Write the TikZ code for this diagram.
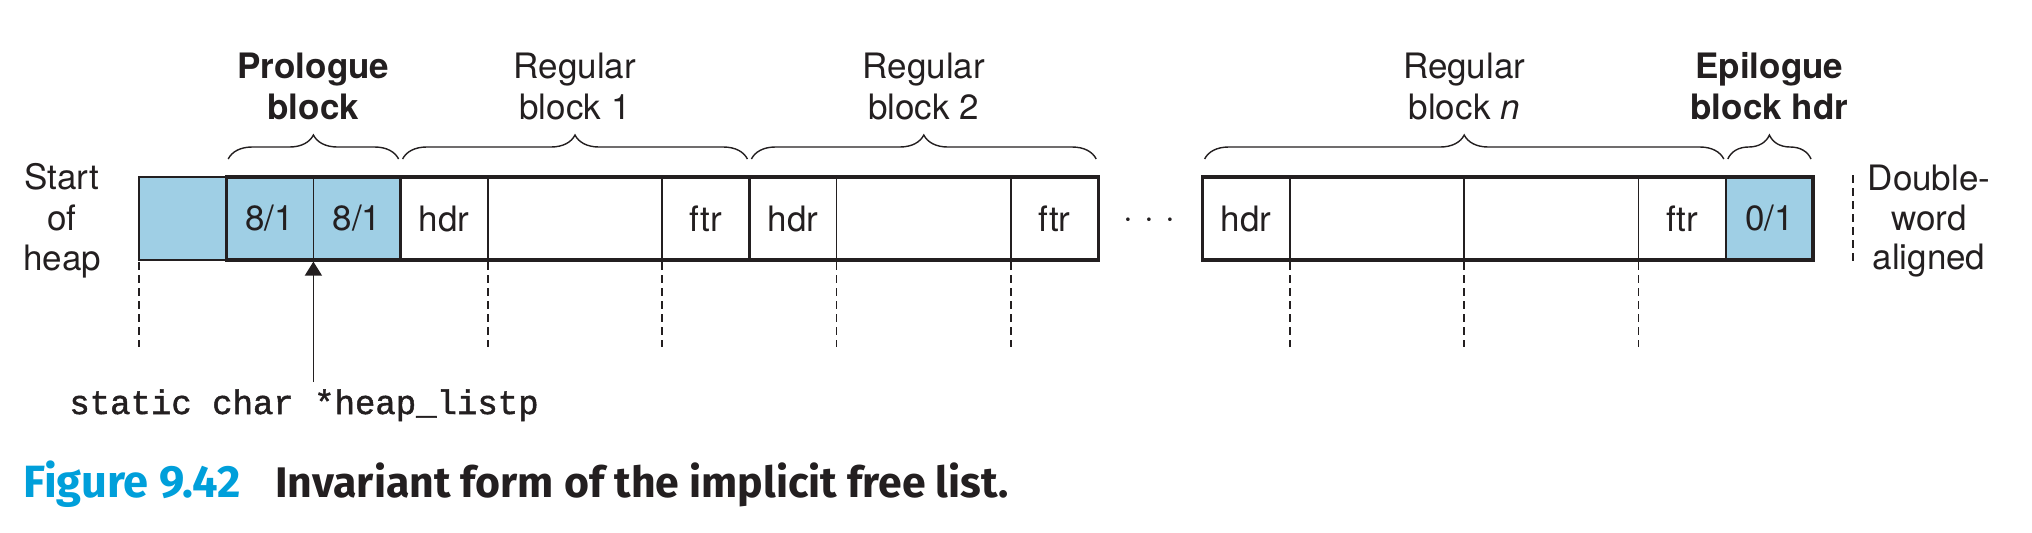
\documentclass[tikz,border=0pt]{standalone}
\usepackage{fontspec}
\setmainfont{TeX Gyre Heros}
\newfontfamily\codefont[FakeBold=1.4]{Liberation Mono}
\newfontfamily\capfont{Fira Sans}
\usetikzlibrary{arrows.meta,decorations.pathreplacing,calc}
\definecolor{heapblue}{RGB}{159,207,229}
\definecolor{capblue}{RGB}{0,159,218}
\definecolor{ink}{RGB}{35,31,32}
\newcommand{\lblfont}{\fontsize{17.5pt}{20.5pt}\selectfont}
\newcommand{\codefnt}{\codefont\fontsize{17pt}{20pt}\selectfont}
\newcommand{\figfnt}{\capfont\bfseries\fontsize{22.6pt}{26pt}\selectfont}
\newcommand{\capfnt}{\capfont\bfseries\fontsize{21.4pt}{25pt}\selectfont}
\begin{document}
\begin{tikzpicture}[x=0.5pt,y=-0.5pt,
  cell/.style={draw=ink, line width=0.75pt, minimum height=41.5pt, inner sep=0pt,
    outer sep=0pt, anchor=north west, fill=white, text=ink, font=\lblfont},
  cellA/.style={cell, minimum width=43.6pt},
  cellB/.style={cell, minimum width=87.2pt},
  blueA/.style={cellA, fill=heapblue},
  thickbox/.style={draw=ink, line width=1.65pt},
  dashline/.style={draw=ink, line width=0.8pt, dash pattern=on 4pt off 2.5pt},
  bracepath/.style={draw=ink, line width=0.7pt, decorate,
    decoration={brace, amplitude=12pt}},
  lab/.style={anchor=base, inner sep=0pt, text=ink, font=\lblfont},
  blab/.style={lab, font=\lblfont\bfseries},
  ptr/.style={draw=ink, line width=0.75pt, -{Triangle[length=7pt,width=8.5pt]}, shorten >=0.8pt}
]
\useasboundingbox (0,0) rectangle (2032,532);

% cells
\node[blueA] (s0) at (139,177) {};
\node[blueA] (p1) at (226.2,177) {8/1};
\node[blueA] (p2) at (313.4,177) {8/1};
\node[cellA] (ah) at (400.6,177) {hdr};
\node[cellB] (ap) at (487.8,177) {};
\node[cellA] (af) at (662.2,177) {ftr};
\node[cellA] (bh) at (749.4,177) {hdr};
\node[cellB] (bp) at (836.6,177) {};
\node[cellA] (bf) at (1011,177) {ftr};
\node[cellA] (nh) at (1202.6,177) {hdr};
\node[cellB] (np1) at (1289.8,177) {};
\node[cellB] (np2) at (1464.2,177) {};
\node[cellA] (nf) at (1638.6,177) {ftr};
\node[blueA] (ep) at (1725.8,177) {0/1};

% thick block outlines
\draw[thickbox] (p1.north west) rectangle (p2.south east);
\draw[thickbox] (ah.north west) rectangle (af.south east);
\draw[thickbox] (bh.north west) rectangle (bf.south east);
\draw[thickbox] (nh.north west) rectangle (ep.south east);

% dots
\node[lab] (dots) at (1149,228) {\textperiodcentered\hspace{5.6pt}\textperiodcentered\hspace{5.6pt}\textperiodcentered};

% dashed alignment lines
\foreach \c in {s0,ap,af,bp,bf,np1,np2,nf}
  \draw[dashline] ([yshift=-1pt]\c.south west) -- ++(0,85);
\coordinate (dwtop) at (1853,175);
\coordinate (dwbot) at (1853,262);
\draw[dashline] (dwtop) -- (dwbot);

% braces
\draw[bracepath] ([xshift=1pt,yshift=9pt]p1.north west) -- ([xshift=-1pt,yshift=9pt]p2.north east);
\draw[bracepath] ([xshift=1pt,yshift=9pt]ah.north west) -- ([xshift=-1pt,yshift=9pt]af.north east);
\draw[bracepath] ([xshift=1pt,yshift=9pt]bh.north west) -- ([xshift=-1pt,yshift=9pt]bf.north east);
\draw[bracepath] ([xshift=1pt,yshift=9pt]nh.north west) -- ([xshift=-1pt,yshift=9pt]nf.north east);
\draw[bracepath] ([xshift=1pt,yshift=9pt]ep.north west) -- ([xshift=-1pt,yshift=9pt]ep.north east);

% block labels
\node[blab] (prolA) at (313.4,78) {Prologue};
\node[blab] (prolB) at (313.4,119) {block};
\node[lab] (regaA) at (575,78) {Regular};
\node[lab] (regaB) at (575,119) {block 1};
\node[lab] (regbA) at (923.8,78) {Regular};
\node[lab] (regbB) at (923.8,119) {block 2};
\node[lab] (regnA) at (1464.2,78) {Regular};
\node[lab] (regnB) at (1464.2,119) {block \textit{n}};
\node[blab] (epiA) at (1769.4,78) {Epilogue};
\node[blab] (epiB) at (1769.4,119) {block hdr};

% side labels
\node[lab] (startA) at (62,189) {Start};
\node[lab] (startB) at (62,230) {of};
\node[lab] (startC) at (62,270) {heap};
\node[lab] (dwA) at (1929,190) {Double-};
\node[lab] (dwB) at (1929,230) {word};
\node[lab] (dwC) at (1929,269) {aligned};

% pointer
\node[anchor=base west, inner sep=0pt, text=ink, font=\codefnt] (code) at (69,414) {static char *heap\_listp};
\coordinate (ptrfoot) at (313.4,382);
\draw[ptr] (ptrfoot) -- (p1.south east);

% caption
\node[anchor=base west, inner sep=0pt, text=capblue, font=\figfnt] (fig) at (23,497) {Figure 9.42};
\node[anchor=base west, inner sep=0pt, text=ink, font=\capfnt] (cap) at (275,497) {Invariant form of the implicit free list.};
\end{tikzpicture}
\end{document}
